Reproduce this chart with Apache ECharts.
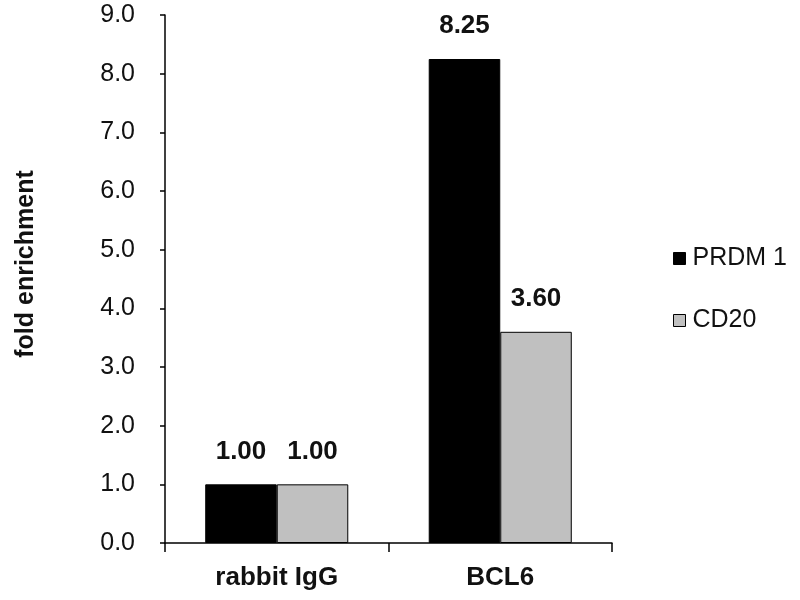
<!DOCTYPE html>
<html>
<head>
<meta charset="utf-8">
<script src="https://cdn.jsdelivr.net/npm/echarts@6/dist/echarts.min.js"></script>
<style>html,body{margin:0;padding:0;background:#fff;}#c{width:800px;height:600px;}</style>
</head>
<body>
<div id="c"></div>
<script>
const categories = ['rabbit IgG', 'BCL6'];
const seriesNames = ['PRDM 1', 'CD20'];
const prdm1 = [1.00, 8.25];
const cd20 = [1.00, 3.60];
const yTicks = { min: 0, max: 9, interval: 1 };

const FONT = '"Liberation Sans", Arial, sans-serif';
const chart = echarts.init(document.getElementById('c'));
const labelCfg = {
  show: true, position: 'top', distance: 20,
  fontFamily: FONT, fontSize: 26, fontWeight: 'bold', color: '#111',
  formatter: p => p.value.toFixed(2)
};
chart.setOption({
  animation: false,
  backgroundColor: '#fff',
  grid: { left: 165, right: 188, top: 15, bottom: 57 },
  legend: {
    orient: 'vertical', left: 668, top: 241,
    itemWidth: 12, itemHeight: 12, itemGap: 37,
    icon: 'rect',
    textStyle: { fontFamily: FONT, fontSize: 25, color: '#111', padding: [0, 0, 0, 2] },
    itemStyle: { borderColor: '#000', borderWidth: 1 },
    data: seriesNames
  },
  xAxis: {
    type: 'category', data: categories,
    axisLine: { lineStyle: { color: '#000', width: 1.5 } },
    axisTick: { show: true, length: 9, lineStyle: { color: '#000', width: 1.5 } },
    axisLabel: { fontFamily: FONT, fontSize: 26, fontWeight: 'bold', color: '#111', margin: 22 }
  },
  yAxis: {
    type: 'value', min: yTicks.min, max: yTicks.max, interval: yTicks.interval,
    name: 'fold enrichment', nameLocation: 'middle', nameGap: 126,
    nameTextStyle: { fontFamily: FONT, fontSize: 25, fontWeight: 'bold', color: '#111', padding: [0, 0, 0, 30] },
    axisLine: { show: true, lineStyle: { color: '#000', width: 1.5 } },
    axisTick: { show: true, length: 5, lineStyle: { color: '#000', width: 1.5 } },
    splitLine: { show: false },
    axisLabel: { fontFamily: FONT, fontSize: 25, color: '#111', margin: 30, formatter: v => v.toFixed(1) }
  },
  series: [
    { name: seriesNames[0], type: 'bar', data: prdm1, barGap: '0%', barCategoryGap: '36%',
      itemStyle: { color: '#000', borderColor: '#000', borderWidth: 1 }, label: labelCfg },
    { name: seriesNames[1], type: 'bar', data: cd20, barGap: '0%', barCategoryGap: '36%',
      itemStyle: { color: '#c0c0c0', borderColor: '#000', borderWidth: 1 }, label: labelCfg }
  ]
});
</script>
</body>
</html>
